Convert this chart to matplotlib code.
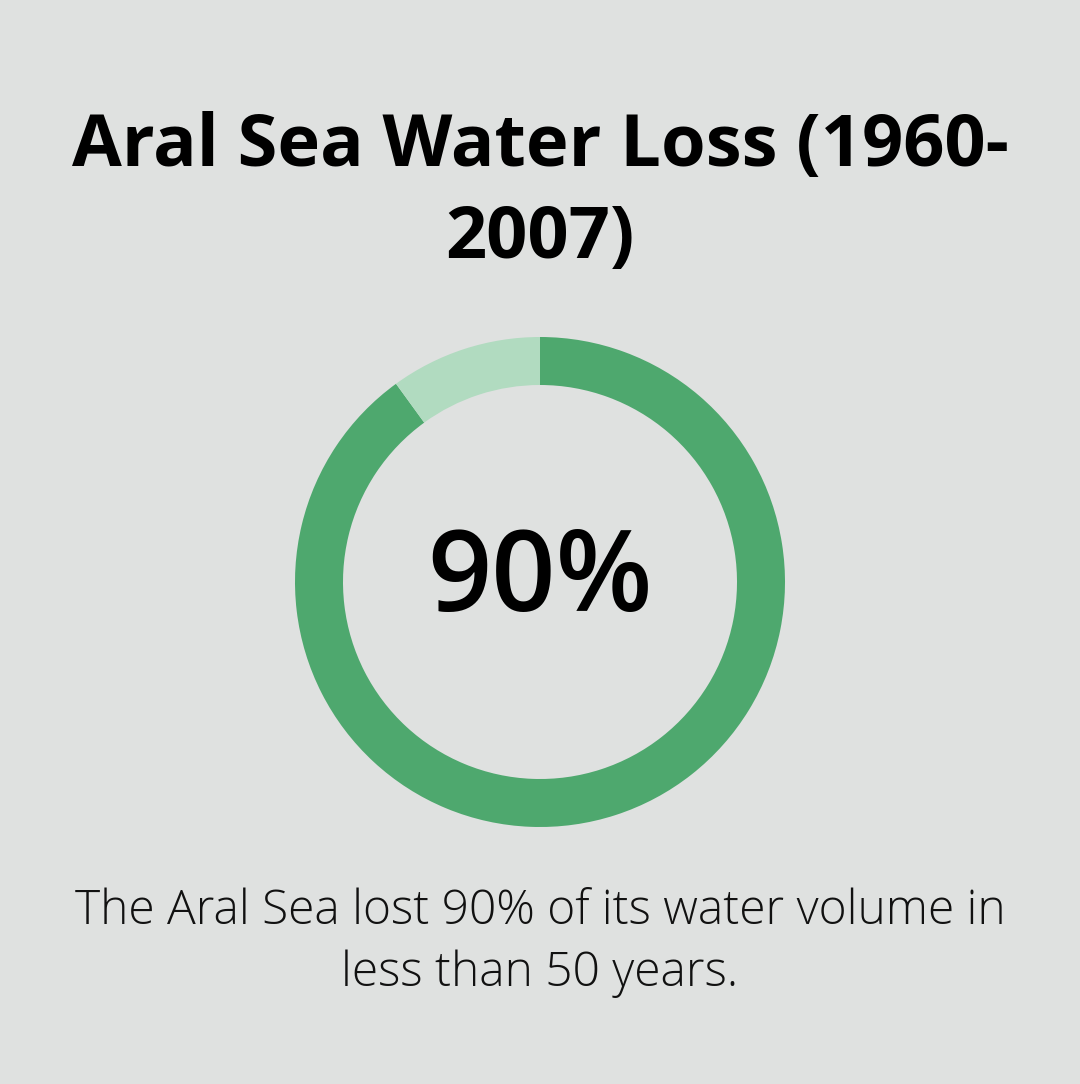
import matplotlib.pyplot as plt

# DATA
title_text = "Aral Sea Water Loss (1960-\n2007)"
center_text = "90%"
caption_text = "The Aral Sea lost 90% of its water volume in\nless than 50 years."
share_values = [90, 10]
share_colors = ["#4ea86e", "#b1dbc0"]

bg = "#dfe1e0"
W, H = 1080, 1084

fig = plt.figure(figsize=(W / 100, H / 100), dpi=100, facecolor=bg)

# donut axes placed in pixel terms
cx, cy, r = 540, 582, 245
ax = fig.add_axes([(cx - r) / W, (H - cy - r) / H, 2 * r / W, 2 * r / H])
ax.set_facecolor(bg)
ax.pie(share_values, colors=share_colors, startangle=90, counterclock=False,
       radius=1, wedgeprops=dict(width=48 / r, linewidth=0))
ax.set_xlim(-1, 1)
ax.set_ylim(-1, 1)
ax.set_aspect("equal")
ax.axis("off")

ax.text(0, 0, center_text, ha="center", va="center", fontsize=81,
        fontweight="semibold", family="Open Sans", color="black")

fig.text(0.5, 1 - 193 / H, title_text, ha="center", va="center", fontsize=52,
         fontweight="bold", family="Open Sans", color="black", linespacing=1.35)

fig.text(0.5, 1 - 943 / H, caption_text, ha="center", va="center", fontsize=34.5,
         fontweight="light", family="Open Sans", color="#111111", linespacing=1.38)

fig.savefig("out.png", dpi=100, facecolor=bg)
